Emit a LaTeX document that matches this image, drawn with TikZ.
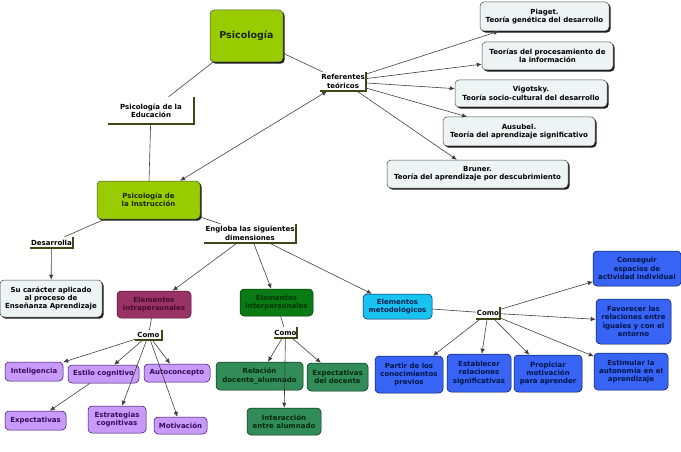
\documentclass[tikz,border=0pt]{standalone}
\usepackage{fontspec}
\setmainfont{DejaVu Sans}
\usetikzlibrary{arrows.meta,shadows}

\definecolor{limeg}{RGB}{153,204,0}
\definecolor{limet}{RGB}{25,40,0}
\definecolor{pale}{RGB}{238,244,244}
\definecolor{plumc}{RGB}{153,51,102}
\definecolor{plumt}{RGB}{70,10,40}
\definecolor{darkg}{RGB}{10,122,20}
\definecolor{darkgt}{RGB}{0,55,0}
\definecolor{cyanc}{RGB}{25,195,240}
\definecolor{cyant}{RGB}{0,30,80}
\definecolor{lilac}{RGB}{200,155,250}
\definecolor{lilact}{RGB}{55,10,90}
\definecolor{seag}{RGB}{50,140,90}
\definecolor{seagt}{RGB}{0,40,15}
\definecolor{royal}{RGB}{55,100,245}
\definecolor{royalt}{RGB}{0,20,70}
\definecolor{barcol}{RGB}{65,70,20}

\begin{document}
\begin{tikzpicture}[x=1pt,y=-1pt,
  font=\bfseries\fontsize{7}{8.3}\selectfont,
  sz/.style 2 args={minimum width=#1pt,minimum height=#2pt},
  cbox/.style={draw=black!70,rounded corners=4pt,align=center,inner sep=1pt,line width=0.5pt},
  shad/.style={drop shadow={shadow xshift=1.6pt,shadow yshift=-1.6pt,fill=black,opacity=0.9}},
  lime/.style={cbox,shad,fill=limeg,text=limet},
  paleb/.style={cbox,shad,fill=pale},
  intra/.style={cbox,fill=plumc,text=plumt,draw=plumt},
  inter/.style={cbox,fill=darkg,text=darkgt,draw=darkgt},
  meto/.style={cbox,fill=cyanc,text=cyant,draw=cyant},
  lil/.style={cbox,fill=lilac,text=lilact,draw=lilact},
  sea/.style={cbox,fill=seag,text=seagt,draw=seagt},
  blu/.style={cbox,fill=royal,text=royalt,draw=royalt},
  link/.style={inner sep=0pt,align=center},
  bar/.style={draw=barcol,line width=1.8pt},
  lnk/.style={black!75,line width=0.6pt},
  arr/.style={lnk,-{Latex[length=5pt,width=4.5pt]}}
]
\useasboundingbox (0,0) rectangle (681,452);

\node[lime,sz={73}{52},font=\bfseries\fontsize{9.5}{11}\selectfont] (psi) at (246.5,36) {Psicología};
\node[link,sz={86}{27}] (educ) at (151,110.5) {Psicología de la\\Educación};
\node[link,sz={46}{19}] (refs) at (343,81.5) {Referentes\\teóricos};
\node[paleb,sz={129}{29}] (piaget) at (544.5,16.5) {Piaget.\\Teoría genética del desarrollo};
\node[paleb,sz={131}{28}] (proc) at (547.5,56) {Teorías del procesamiento de\\la información};
\node[paleb,sz={152}{27}] (vig) at (531,93.5) {Vigotsky.\\Teoría socio-cultural del desarrollo};
\node[paleb,sz={152}{29}] (aus) at (519,131.5) {Ausubel.\\Teoría del aprendizaje significativo};
\node[paleb,sz={181}{28}] (brun) at (477.5,174) {Bruner.\\Teoría del aprendizaje por descubrimiento};
\node[lime,sz={103}{38}] (instr) at (148.5,200) {Psicología de\\la Instrucción};
\node[link,sz={43}{11}] (desa) at (51.5,242.5) {Desarrolla};
\node[paleb,sz={102}{37}] (sucar) at (51,298.5) {Su carácter aplicado\\al proceso de\\Enseñanza Aprendizaje};
\node[link,sz={92}{19}] (engl) at (250,233.5) {Engloba las siguientes\\dimensiones};

\node[intra,sz={74}{27}] (intra) at (154,304.5) {Elementos\\intrapersonales};
\node[inter,sz={73}{27}] (inter) at (276.5,302.5) {Elementos\\interpersonales};
\node[meto,sz={69}{25}] (meto) at (397.5,306.5) {Elementos\\metodológicos};

\node[link,sz={27}{10}] (comoa) at (148.5,335) {Como};
\node[link,sz={23}{11}] (comob) at (285.5,332.5) {Como};
\node[link,sz={24}{12}] (comoc) at (488,313) {Como};

\node[lil,sz={58}{19}] (intel) at (34,371.5) {Inteligencia};
\node[lil,sz={71}{18}] (estilo) at (103.5,374) {Estilo cognitivo};
\node[lil,sz={66}{18}] (auto) at (177,373) {Autoconcepto};
\node[lil,sz={61}{19}] (expe) at (35.5,420.5) {Expectativas};
\node[lil,sz={58}{27}] (estr) at (117,419.5) {Estrategias\\cognitivas};
\node[lil,sz={53}{17}] (moti) at (180.5,425.5) {Motivación};

\node[sea,sz={87}{28}] (rela) at (259.5,376) {Relación\\docente\_alumnado};
\node[sea,sz={61}{28}] (expd) at (337.5,377) {Expectativas\\del docente};
\node[sea,sz={74}{27}] (inta) at (284,421.5) {Interacción\\entre alumnado};

\node[blu,sz={88}{35}] (cons) at (637,268.5) {Conseguir\\espacios de\\actividad individual};
\node[blu,sz={75}{45}] (favo) at (633.5,321.5) {Favorecer las\\relaciones entre\\iguales y con el\\entorno};
\node[blu,sz={74}{37}] (esti) at (631,371.5) {Estimular la\\autonomía en el\\aprendizaje};
\node[blu,sz={68}{37}] (part) at (409,374.5) {Partir de los\\conocimientos\\previos};
\node[blu,sz={64}{38}] (esta) at (479,373) {Establecer\\relaciones\\significativas};
\node[blu,sz={68}{37}] (prop) at (548,373.5) {Propiciar\\motivación\\para aprender};

\foreach \n in {educ,refs,desa,engl,comoa,comob,comoc}
  \draw[bar] (\n.north east) |- (\n.south west);

\draw[lnk] (psi)--(educ);
\draw[lnk] (educ)--(instr);
\draw[lnk] (psi)--(refs);
\draw[lnk,{Latex[length=5pt,width=4.5pt]}-{Latex[length=5pt,width=4.5pt]}] (instr)--(refs);
\draw[arr] (refs)--(piaget);
\draw[arr] (refs)--(proc);
\draw[arr] (refs)--(vig);
\draw[arr] (refs)--(aus);
\draw[arr] (refs)--(brun);
\draw[lnk] (instr)--(desa);
\draw[arr] (desa)--(sucar);
\draw[lnk] (instr)--(engl);
\draw[arr] (engl)--(intra);
\draw[arr] (engl)--(inter);
\draw[arr] (engl)--(meto);
\draw[lnk] (intra)--(comoa);
\draw[arr] (comoa)--(intel);
\draw[arr] (comoa)--(estilo);
\draw[arr] (comoa)--(auto);
\draw[arr] (comoa)--(estr);
\draw[arr] (comoa)--(moti);
\draw[arr] (estilo)--(expe);
\draw[lnk] (inter)--(comob);
\draw[arr] (comob)--(rela);
\draw[arr] (comob)--(expd);
\draw[arr] (comob)--(inta);
\draw[lnk] (meto)--(comoc);
\draw[arr] (comoc)--(cons);
\draw[arr] (comoc)--(favo);
\draw[arr] (comoc)--(esti);
\draw[arr] (comoc)--(part);
\draw[arr] (comoc)--(esta);
\draw[arr] (comoc)--(prop);
\end{tikzpicture}
\end{document}
